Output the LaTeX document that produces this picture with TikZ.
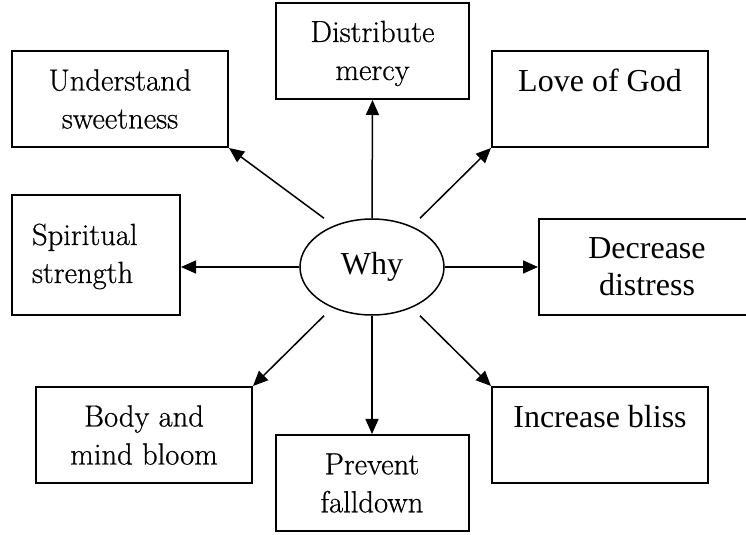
\documentclass[tikz,border=0pt]{standalone}
\usepackage{fontspec}
\setmainfont{Liberation Serif}
\newfontfamily\antiquafont[FakeBold=0.6]{Latin Modern Roman}
\usetikzlibrary{arrows.meta,shapes.geometric}

\begin{document}
\begin{tikzpicture}[x=0.5pt, y=-0.5pt,
    box/.style={draw, line width=1pt, minimum width=108pt, minimum height=48pt, inner sep=0pt, align=center, font=\antiquafont\fontsize{15.3}{19}\selectfont},
    timesbox/.style={box, font=\rmfamily\fontsize{16}{18.5}\selectfont},
    link/.style={-{Triangle[length=7.5pt,width=6.5pt]}, line width=0.75pt}]
    \clip (0,0) rectangle (746,535);
    \node[draw, ellipse, line width=0.75pt, minimum width=72pt, minimum height=48pt, inner sep=0pt, font=\rmfamily\fontsize{16}{18}\selectfont] (why) at (372,267) {Why};
    \node[box, minimum width=96.5pt, text height=33pt, text depth=4pt] (dim) at (372.5,51) {Distribute\\mercy};
    \node[box] (usw) at (120,99) {Understand\\sweetness};
    \node[timesbox, text height=12pt, text depth=19pt] (log) at (600,99) {Love of God};
    \node[box, minimum width=84pt, minimum height=60pt, text width=64pt, align=left, text height=12pt, text depth=22pt] (sps) at (96,255) {Spiritual\\strength};
    \node[timesbox] (dds) at (647,267) {Decrease\\distress};
    \node[box] (bmb) at (144,435) {Body and\\mind bloom};
    \node[box, minimum width=96.5pt] (pfd) at (372,483) {Prevent\\falldown};
    \node[timesbox, text height=12pt, text depth=19pt] (ibl) at (600,435) {Increase bliss};
    \draw[link] (why.north) -- (dim.south);
    \draw[link] ([xshift=-24pt]why.north) -- (usw.south east);
    \draw[link] ([xshift=24pt]why.north) -- (log.south west);
    \draw[link] (why.west) -- (why.west -| sps.east);
    \draw[link] (why.east) -- (why.east -| dds.west);
    \draw[link] ([xshift=-24pt]why.south) -- (bmb.north east);
    \draw[link] (why.south) -- (pfd.north);
    \draw[link] ([xshift=24pt]why.south) -- (ibl.north west);
\end{tikzpicture}
\end{document}
